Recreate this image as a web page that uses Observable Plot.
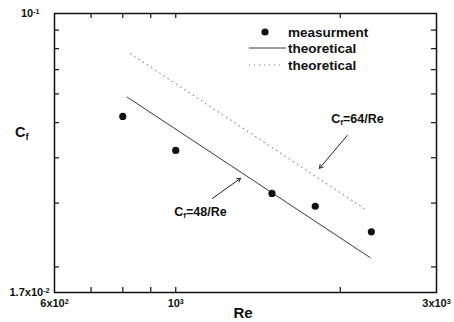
<!DOCTYPE html>
<html><head><meta charset="utf-8">
<script src="https://cdn.jsdelivr.net/npm/d3@7"></script>
<script src="https://cdn.jsdelivr.net/npm/@observablehq/plot@0.6"></script>
<style>
body{margin:0;background:#fff;}
#chart svg{display:block;}
</style>
</head><body><div id="chart"></div>
<script>
// measured points
const measRe = [800, 1000, 1500, 1800, 2280];
const measCf = [0.052, 0.0419, 0.0319, 0.0294, 0.025];
// theoretical lines (end points)
const line48Re = [815, 2270];
const line48Cf = [0.0588, 0.0212];
const line64Re = [826, 2225];
const line64Cf = [0.0775, 0.0288];
// annotations
const annText = ["C_{f}=64/Re", "C_{f}=48/Re"];
const annRe = [2150, 1110];
const annCf = [0.0513, 0.0283];
const arrRe1 = [2060, 1167];
const arrCf1 = [0.0461, 0.0309];
const arrRe2 = [1832, 1314];
const arrCf2 = [0.0374, 0.0351];
// axes
const xDomain = [600, 3000];
const yDomain = [0.017, 0.1];
const xMinor = [700, 800, 900, 1000, 2000];
const yMinor = [0.02, 0.03, 0.04, 0.05, 0.06, 0.07, 0.08, 0.09];
const xTickVals = [600, 1000, 3000];
const xTickLabels = ["6x10^{2}", "10^{3}", "3x10^{3}"];
const yTickVals = [0.1, 0.017];
const yTickLabels = ["10^{-1}", "1.7x10^{-2}"];
const legendLabels = ["measurment", "theoretical", "theoretical"];

const meas = measRe.map((r, i) => ({Re: r, Cf: measCf[i]}));
const l48 = line48Re.map((r, i) => ({Re: r, Cf: line48Cf[i]}));
const l64 = line64Re.map((r, i) => ({Re: r, Cf: line64Cf[i]}));
const ann = annText.map((t, i) => ({t, Re: annRe[i], Cf: annCf[i]}));
const arr = arrRe1.map((r, i) => ({x1: r, y1: arrCf1[i], x2: arrRe2[i], y2: arrCf2[i]}));

const W = 454, H = 322, mL = 54, mR = 18, mT = 13, mB = 30;
const innerW = W - mL - mR, innerH = H - mT - mB;
const tk = 5;

const chart = Plot.plot({
  width: W, height: H,
  marginLeft: mL, marginRight: mR, marginTop: mT, marginBottom: mB,
  x: {type: "log", domain: xDomain, axis: null},
  y: {type: "log", domain: yDomain, axis: null},
  style: {fontFamily: "'Liberation Sans', Arial, sans-serif", fontWeight: "bold", background: "#fff", color: "#111"},
  marks: [
    Plot.ruleX(xMinor, {x: d => d, insetTop: innerH - tk, stroke: "#111", strokeWidth: 1.2}),
    Plot.ruleX(xMinor, {x: d => d, insetBottom: innerH - tk, stroke: "#111", strokeWidth: 1.2}),
    Plot.ruleY(yMinor, {y: d => d, insetRight: innerW - tk, stroke: "#111", strokeWidth: 1.2}),
    Plot.ruleY(yMinor, {y: d => d, insetLeft: innerW - tk, stroke: "#111", strokeWidth: 1.2}),
    Plot.frame({stroke: "#111", strokeWidth: 1.5}),
    Plot.line(l48, {x: "Re", y: "Cf", stroke: "#222", strokeWidth: 0.9}),
    Plot.line(l64, {x: "Re", y: "Cf", stroke: "#777", strokeWidth: 1, strokeDasharray: "1 4"}),
    Plot.dot(meas, {x: "Re", y: "Cf", r: 3.6, fill: "#111", stroke: "none"}),
    Plot.arrow(arr, {x1: "x1", y1: "y1", x2: "x2", y2: "y2", stroke: "#222", strokeWidth: 1, headLength: 6}),
    Plot.text(ann, {x: "Re", y: "Cf", text: "t", fontSize: 12.5, fontWeight: "bold", fill: "#111"}),
    Plot.text(xTickVals, {x: d => d, frameAnchor: "bottom", dy: 14, text: (d, i) => xTickLabels[i], fontSize: 11, fontWeight: "bold", fill: "#111"}),
    Plot.text([yTickVals[0]], {y: d => d, frameAnchor: "left", dx: -15, textAnchor: "end", text: () => yTickLabels[0], fontSize: 11, fontWeight: "bold", fill: "#111"}),
    Plot.text([yTickVals[1]], {y: d => d, frameAnchor: "left", dx: -5, textAnchor: "end", text: () => yTickLabels[1], fontSize: 11, fontWeight: "bold", fill: "#111"})
  ]
});

const svg = d3.select(chart);
// legend
const lg = svg.append("g").attr("font-family", "'Liberation Sans', Arial, sans-serif").attr("font-weight", "bold").attr("font-size", 13.5).attr("fill", "#111").attr("text-anchor", "start");
lg.append("circle").attr("cx", 265).attr("cy", 32).attr("r", 3.6).attr("fill", "#111");
lg.append("line").attr("x1", 249).attr("x2", 286).attr("y1", 48).attr("y2", 48).attr("stroke", "#222").attr("stroke-width", 0.9);
lg.append("line").attr("x1", 249).attr("x2", 284).attr("y1", 65).attr("y2", 65).attr("stroke", "#777").attr("stroke-width", 1).attr("stroke-dasharray", "1 4");
[32, 48, 65].forEach((y, i) => {
  lg.append("text").attr("x", 288).attr("y", y).attr("dy", "0.35em").text(legendLabels[i]);
});
// axis titles
svg.append("text").attr("x", 15).attr("y", 132).attr("dy", "0.35em").attr("text-anchor", "start")
  .attr("font-family", "'Liberation Sans', Arial, sans-serif").attr("font-weight", "bold").attr("font-size", 14.5).attr("fill", "#111").text("C_{f}");
svg.append("text").attr("x", 243).attr("y", 313).attr("dy", "0.35em").attr("text-anchor", "middle")
  .attr("font-family", "'Liberation Sans', Arial, sans-serif").attr("font-weight", "bold").attr("font-size", 15).attr("fill", "#111").text("Re");

// rich text: ^{..} superscript, _{..} subscript
svg.selectAll("text").each(function() {
  const s = this.textContent;
  if (!/[\^_]\{/.test(s)) return;
  const el = d3.select(this);
  el.text(null);
  const re = /([\^_])\{([^}]*)\}|([^\^_]+)/g;
  let m;
  while ((m = re.exec(s))) {
    if (m[3]) el.append("tspan").text(m[3]);
    else el.append("tspan").attr("baseline-shift", m[1] === "^" ? "45%" : "-30%").attr("font-size", "65%").text(m[2]);
  }
});

document.getElementById("chart").appendChild(chart);
</script>
</body></html>
